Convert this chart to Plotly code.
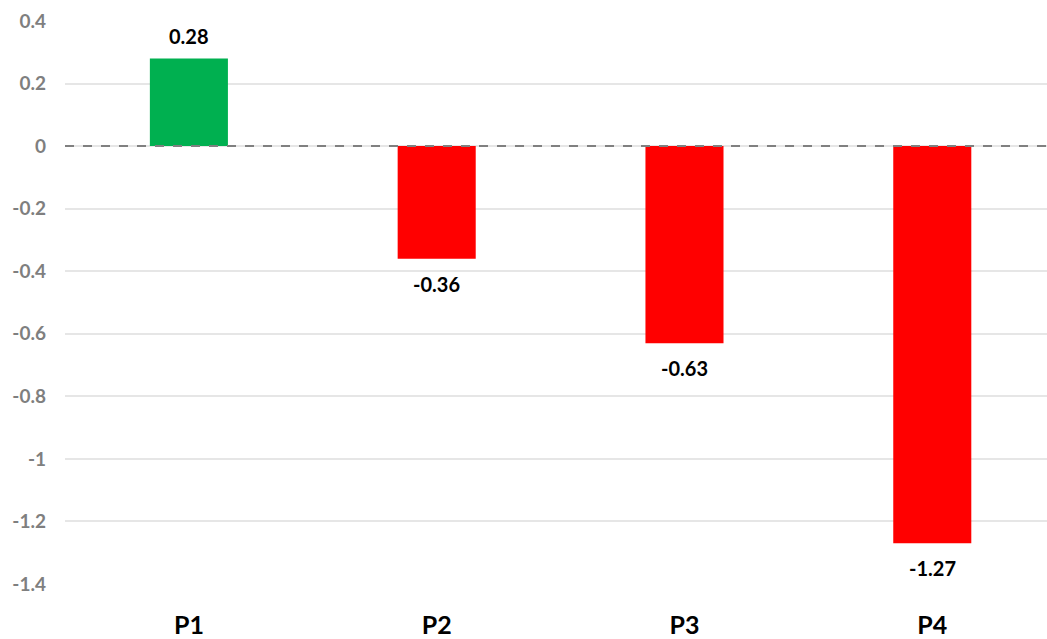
import plotly.graph_objects as go

categories = ["P1", "P2", "P3", "P4"]
values = [0.28, -0.36, -0.63, -1.27]
value_labels = ["0.28", "-0.36", "-0.63", "-1.27"]
y_ticks = [0.4, 0.2, 0, -0.2, -0.4, -0.6, -0.8, -1, -1.2, -1.4]
y_tick_labels = ["0.4", "0.2", "0", "-0.2", "-0.4", "-0.6", "-0.8", "-1", "-1.2", "-1.4"]

colors = ["#00B050" if v >= 0 else "#FF0000" for v in values]

fig = go.Figure()
fig.add_trace(go.Bar(
    x=categories, y=values, marker=dict(color=colors, line=dict(width=0)),
    width=0.315, hoverinfo="skip",
))

for c, v, t in zip(categories, values, value_labels):
    fig.add_annotation(x=c, y=v, text=f"<b>{t}</b>", showarrow=False,
                       yshift=23 if v >= 0 else -25,
                       font=dict(family="Lato", size=20, color="#000000"))

fig.add_shape(type="line", xref="paper", yref="y", x0=0, x1=1, y0=0, y1=0,
              line=dict(color="#808080", width=2, dash="dash"))

fig.update_layout(
    width=1047, height=639,
    margin=dict(l=65, r=0, t=21, b=51),
    plot_bgcolor="white", paper_bgcolor="white",
    showlegend=False,
    xaxis=dict(range=[-0.5, 3.463], showgrid=False, zeroline=False, showline=False,
               tickfont=dict(family="Lato", size=25, color="#000000", weight="bold"),
               ticks="", ticklabelstandoff=24),
    yaxis=dict(range=[-1.4, 0.4], tickvals=y_ticks, ticktext=y_tick_labels,
               showgrid=True, gridcolor="#E6E6E6", gridwidth=1.5, zeroline=False,
               showline=False, ticks="", ticklabelstandoff=18,
               tickfont=dict(family="Lato", size=19, color="#7F7F7F", weight="bold")),
)

fig.write_html("out.html")
